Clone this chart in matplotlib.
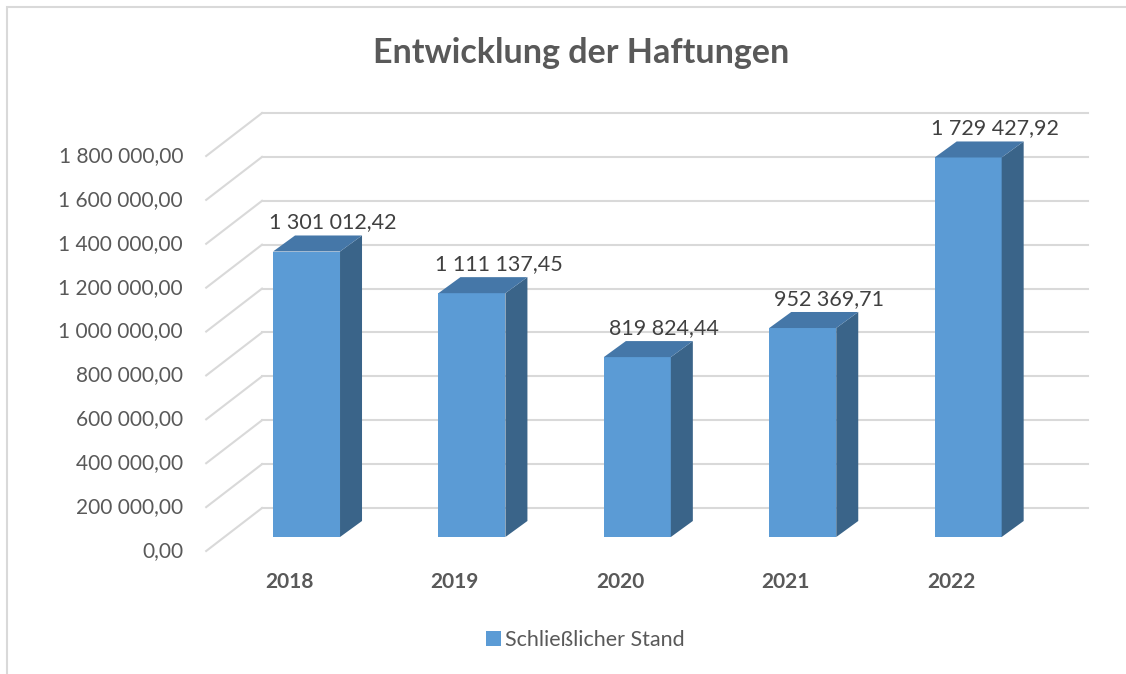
import matplotlib
matplotlib.use('Agg')
import matplotlib.pyplot as plt
from matplotlib.patches import Polygon, Rectangle, Patch

plt.rcParams['font.family'] = ['Lato', 'DejaVu Sans']

# data
years = ['2018', '2019', '2020', '2021', '2022']
values = [1301012.42, 1111137.45, 819824.44, 952369.71, 1729427.92]
value_labels = ['1 301 012,42', '1 111 137,45', '819 824,44', '952 369,71', '1 729 427,92']
grid_vals = [0, 200000, 400000, 600000, 800000, 1000000, 1200000, 1400000, 1600000, 1800000]
grid_labels = ['0,00', '200 000,00', '400 000,00', '600 000,00', '800 000,00',
               '1 000 000,00', '1 200 000,00', '1 400 000,00', '1 600 000,00', '1 800 000,00']
series_name = 'Schließlicher Stand'

front_col = '#5B9BD5'
side_col = '#3A6489'
top_col = '#4577A8'
grid_col = '#D9D9D9'
text_col = '#595959'

W, H = 1126, 674
fig = plt.figure(figsize=(W / 100, H / 100), dpi=100)
ax = fig.add_axes([200 / W, 1 - 560 / H, 900 / W, 460 / H])
ax.set_xlim(-0.644, 4.797)
ax.set_ylim(-104800, 1991400)
ax.axis('off')

# pseudo 3d offsets (in data units)
back_dx, back_dy = 0.2286, 132000    # back wall relative to bar front
front_dx, front_dy = -0.109, -63800  # floor front edge relative to bar front
side_dx, side_dy = 0.133, 73000      # bar depth
bw = 0.2025                          # half bar width
wall_left, wall_right = -0.269, 4.725

# gridlines: back wall + left diagonal
for v, lab in zip(grid_vals, grid_labels):
    ax.plot([wall_left, wall_right], [v + back_dy, v + back_dy], color=grid_col, lw=1.5, zorder=1)
    ax.plot([front_dx + wall_left - back_dx, wall_left], [v + front_dy, v + back_dy],
            color=grid_col, lw=1.5, zorder=1)
    ax.text(front_dx + wall_left - back_dx - 0.14, v + front_dy, lab, ha='right', va='center',
            fontsize=15, color=text_col)

for i, (v, lab) in enumerate(zip(values, value_labels)):
    ax.add_patch(Rectangle((i - bw, 0), 2 * bw, v, facecolor=front_col, edgecolor='none', zorder=3))
    ax.add_patch(Polygon([(i + bw, 0), (i + bw + side_dx, side_dy),
                          (i + bw + side_dx, v + side_dy), (i + bw, v)],
                         facecolor=side_col, edgecolor='none', zorder=3))
    ax.add_patch(Polygon([(i - bw, v), (i + bw, v), (i + bw + side_dx, v + side_dy),
                          (i - bw + side_dx, v + side_dy)],
                         facecolor=top_col, edgecolor='none', zorder=3))
    ax.text(i + 0.16, v + side_dy + 14000, lab, ha='center', va='bottom', fontsize=15.5,
            color='#404040', zorder=4)
    ax.text(i - 0.103, -205000, years[i], ha='center', va='center', fontsize=15,
            fontweight='bold', color=text_col)

fig.text(581 / W, 1 - 53 / H, 'Entwicklung der Haftungen', ha='center', va='center',
         fontsize=24.5, fontweight='bold', color=text_col)

fig.legend(handles=[Patch(facecolor=front_col, label=series_name)], loc='center',
           bbox_to_anchor=(585 / W, 1 - 640 / H), frameon=False, fontsize=15.5,
           handlelength=0.7, handleheight=0.7, handletextpad=0.2, labelcolor=text_col)

# outer chart border
fig.patches.append(Rectangle((7 / W, -0.1), 1.2, 1.1 - 7.5 / H, transform=fig.transFigure,
                             facecolor='none', edgecolor='#D9D9D9', lw=1.5))

fig.savefig('out.png', dpi=100)
